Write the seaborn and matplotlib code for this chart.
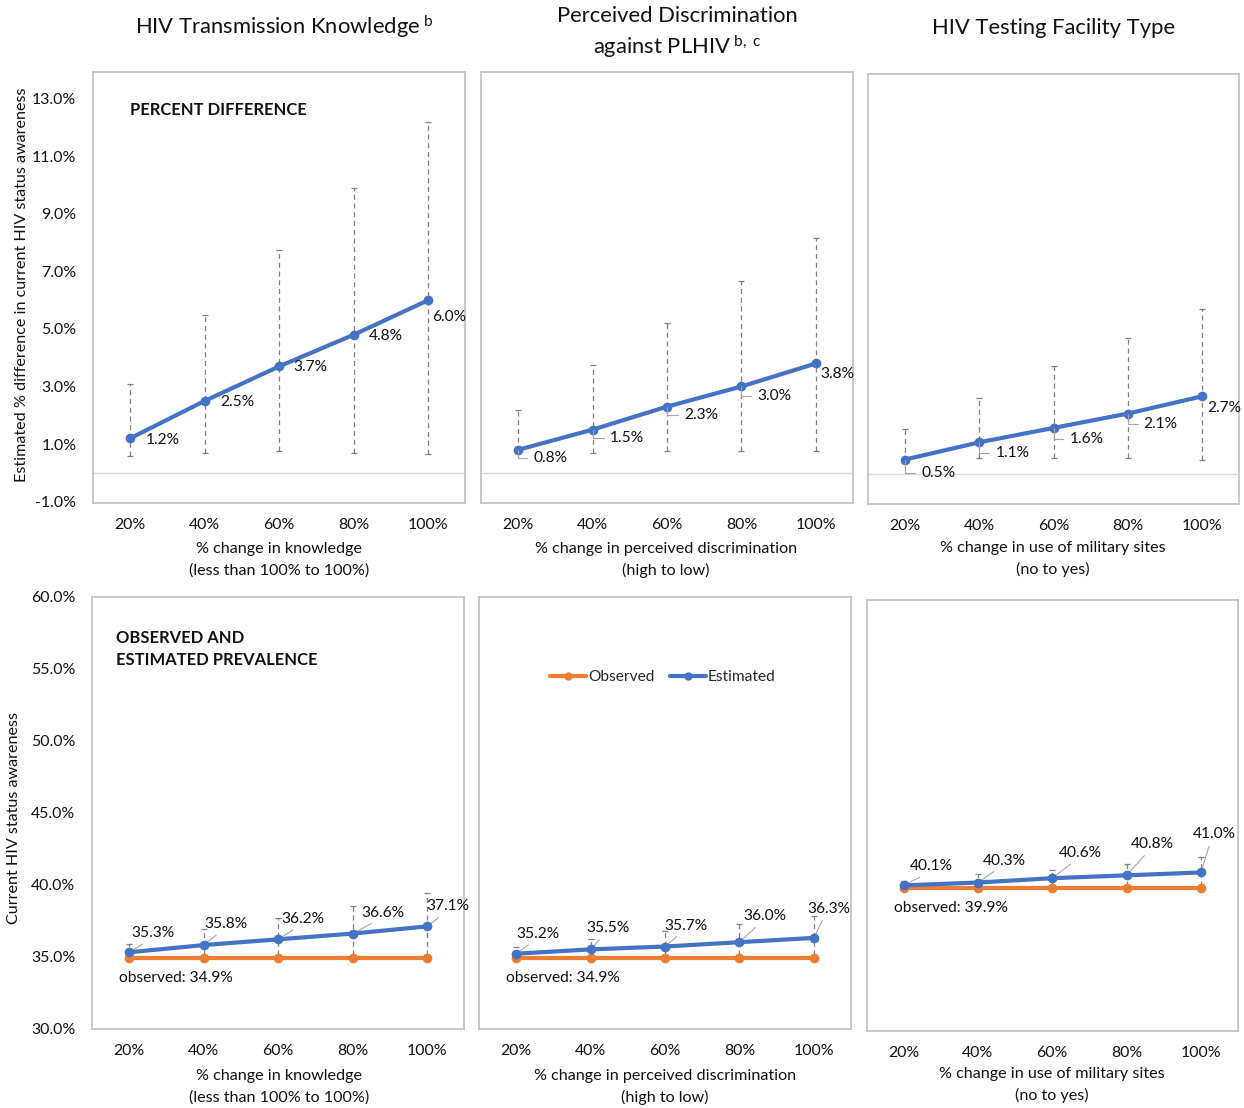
import numpy as np
import pandas as pd
import matplotlib
matplotlib.use("Agg")
import matplotlib.pyplot as plt
from matplotlib.lines import Line2D
import seaborn as sns

# ---------------------------------------------------------------- data
change_labels = ["20%", "40%", "60%", "80%", "100%"]

# percent difference in current HIV status awareness (top row)
knowledge_diff = [1.2, 2.5, 3.7, 4.8, 6.0]
knowledge_diff_lo = [0.6, 0.7, 0.75, 0.7, 0.65]
knowledge_diff_hi = [3.1, 5.5, 7.75, 9.9, 12.2]

discrim_diff = [0.8, 1.5, 2.3, 3.0, 3.8]
discrim_diff_lo = [0.75, 0.7, 0.75, 0.75, 0.75]
discrim_diff_hi = [2.2, 3.75, 5.2, 6.65, 8.15]

military_diff = [0.5, 1.1, 1.6, 2.1, 2.7]
military_diff_lo = [0.45, 0.55, 0.55, 0.55, 0.5]
military_diff_hi = [1.55, 2.65, 3.75, 4.75, 5.75]

# observed and estimated prevalence (bottom row)
knowledge_obs = 34.9
knowledge_est = [35.3, 35.8, 36.2, 36.6, 37.1]
knowledge_est_lo = [35.1, 35.1, 35.1, 35.1, 35.1]
knowledge_est_hi = [35.9, 36.9, 37.7, 38.5, 39.4]

discrim_obs = 34.9
discrim_est = [35.2, 35.5, 35.7, 36.0, 36.3]
discrim_est_lo = [35.1, 35.1, 35.1, 35.1, 35.1]
discrim_est_hi = [35.65, 36.2, 36.75, 37.25, 37.8]

military_obs = 39.9
military_est = [40.1, 40.3, 40.6, 40.8, 41.0]
military_est_lo = [40.05, 40.05, 40.05, 40.05, 40.05]
military_est_hi = [40.4, 40.9, 41.2, 41.6, 42.1]

titles = ["HIV Transmission Knowledge$^{\\mathrm{\\ b}}$",
          "Perceived Discrimination\nagainst PLHIV$^{\\mathrm{\\ b,\\ c}}$",
          "HIV Testing Facility Type"]
xlabels = ["% change in knowledge\n(less than 100% to 100%)",
           "% change in perceived discrimination\n(high to low)",
           "% change in use of military sites\n(no to yes)"]

# ---------------------------------------------------------------- style
sns.set_theme(style="white")
FONT = ["Lato", "DejaVu Sans"]
plt.rcParams["font.family"] = FONT
plt.rcParams["mathtext.fontset"] = "custom"
plt.rcParams["mathtext.rm"] = "Lato"
plt.rcParams["mathtext.it"] = "Lato:italic"
plt.rcParams["mathtext.bf"] = "Lato:bold"

BLUE = "#4472C4"
ORANGE = "#ED7D31"
ERR = "#7F7F7F"
FRAME = "#BFBFBF"
TXT = "#111111"

FS_TICK = 11.4
FS_LAB = 11.2
FS_AX = 11.6
FS_TITLE = 15.8
FS_BOLD = 11.9

W, H = 1244, 1108
fig = plt.figure(figsize=(W / 100, H / 100), dpi=100)
fig.patch.set_facecolor("white")


def box(l, t, r, b):
    return [l / W, 1 - b / H, (r - l) / W, (b - t) / H]


def ftext(x, y, s, **kw):
    kw.setdefault("color", TXT)
    fig.text(x / W, 1 - y / H, s, **kw)


PX = 72 / 100  # pixels -> points

top_boxes = [(93, 71.5, 465.5, 503), (481, 71.5, 853, 503), (868, 73.5, 1239, 504)]
bot_boxes = [(92, 597, 464.5, 1028.5), (479, 597, 851, 1028.5), (866.5, 599.5, 1238, 1030.5)]

top_series = [
    (knowledge_diff, knowledge_diff_lo, knowledge_diff_hi,
     [(16, 2), (16, 1), (14, 1), (15, 1), (4, 17)], [False] * 5),
    (discrim_diff, discrim_diff_lo, discrim_diff_hi,
     [(15, 8), (17, 8), (17, 8), (16, 10), (5, 11)], [True, True, True, True, False]),
    (military_diff, military_diff_lo, military_diff_hi,
     [(16, 13), (16, 11), (16, 11), (16, 10), (5, 12)], [True, True, True, True, False]),
]

bot_series = [
    (knowledge_obs, knowledge_est, knowledge_est_lo, knowledge_est_hi,
     [(24, -19), (22, -21), (25, -20), (30, -21), (21, -20)]),
    (discrim_obs, discrim_est, discrim_est_lo, discrim_est_hi,
     [(22, -20), (17, -21), (21, -21), (25, -26), (15, -29)]),
    (military_obs, military_est, military_est_lo, military_est_hi,
     [(28, -19), (26, -22), (28, -25), (26, -31), (14, -38)]),
]

pos = np.arange(len(change_labels))


def style_axes(ax, ylim, yticks, show_y):
    ax.set_xlim(-0.5, len(change_labels) - 0.5)
    ax.set_ylim(*ylim)
    ax.set_xticks(pos)
    ax.set_xticklabels(change_labels, fontsize=FS_TICK, color=TXT)
    ax.set_yticks(yticks)
    if show_y:
        ax.set_yticklabels([f"{v:.1f}%" for v in yticks], fontsize=FS_TICK, color=TXT)
    else:
        ax.set_yticklabels([])
    ax.tick_params(axis="x", length=0, pad=11)
    ax.tick_params(axis="y", length=0, pad=12)
    ax.set_xlabel("")
    ax.set_ylabel("")
    for sp in ax.spines.values():
        sp.set_color(FRAME)
        sp.set_linewidth(1.2)
        sp.set_visible(True)
    ax.grid(False)


def draw_errors(ax, y, lo, hi):
    y = np.asarray(y)
    yerr = np.vstack([y - np.asarray(lo), np.asarray(hi) - y])
    eb = ax.errorbar(pos, y, yerr=yerr, fmt="none", ecolor=ERR, elinewidth=0.9,
                     capsize=2.2, capthick=0.9, zorder=2)
    for lc in eb[2]:
        lc.set_linestyle((0, (4, 3)))


# ---------------------------------------------------------------- top row
for i, (vals, lo, hi, offs, leader) in enumerate(top_series):
    ax = fig.add_axes(box(*top_boxes[i]))
    ax.axhline(0, color="#D9D9D9", lw=1, zorder=1)
    draw_errors(ax, vals, lo, hi)
    df = pd.DataFrame({"pos": pos, "value": vals})
    sns.lineplot(data=df, x="pos", y="value", ax=ax, color=BLUE, lw=3,
                 marker="o", markersize=7, markeredgewidth=0, zorder=3)
    style_axes(ax, (-1.05, 13.95), [-1, 1, 3, 5, 7, 9, 11, 13], i == 0)
    for j, v in enumerate(vals):
        dx, dy = offs[j]
        kw = dict(xy=(pos[j], v), xytext=(dx * PX, -dy * PX),
                  textcoords="offset points", ha="left", va="center",
                  fontsize=FS_LAB, color=TXT)
        if leader[j]:
            kw["arrowprops"] = dict(arrowstyle="-", color="#A6A6A6", lw=0.8,
                                    connectionstyle="angle,angleA=0,angleB=90,rad=0",
                                    relpos=(0, 0.5), shrinkA=2, shrinkB=0)
        ax.annotate(f"{v:.1f}%", **kw)
    if i == 0:
        ax.text(0.1, 0.91, "PERCENT DIFFERENCE", transform=ax.transAxes,
                fontsize=FS_BOLD, fontweight="bold", color=TXT, ha="left", va="center")

# ---------------------------------------------------------------- bottom row
for i, (obs, est, lo, hi, offs) in enumerate(bot_series):
    ax = fig.add_axes(box(*bot_boxes[i]))
    draw_errors(ax, est, lo, hi)
    df_obs = pd.DataFrame({"pos": pos, "value": [obs] * len(pos)})
    df_est = pd.DataFrame({"pos": pos, "value": est})
    sns.lineplot(data=df_obs, x="pos", y="value", ax=ax, color=ORANGE, lw=3,
                 marker="o", markersize=7, markeredgewidth=0, zorder=3)
    sns.lineplot(data=df_est, x="pos", y="value", ax=ax, color=BLUE, lw=3,
                 marker="o", markersize=7, markeredgewidth=0, zorder=4)
    style_axes(ax, (30, 60), [30, 35, 40, 45, 50, 55, 60], i == 0)
    for j, v in enumerate(est):
        dx, dy = offs[j]
        ax.annotate(f"{v:.1f}%", xy=(pos[j], v), xytext=(dx * PX, -dy * PX),
                    textcoords="offset points", ha="center", va="center",
                    fontsize=FS_LAB, color=TXT,
                    arrowprops=dict(arrowstyle="-", color="#A6A6A6", lw=0.8,
                                    relpos=(0.4, 0.0), shrinkA=1, shrinkB=0))
    ax.annotate(f"observed: {obs:.1f}%", xy=(pos[0], obs), xytext=(-10 * PX, -20 * PX),
                textcoords="offset points", ha="left", va="center",
                fontsize=FS_LAB, color=TXT)
    if i == 0:
        ax.text(0.065, 0.879, "OBSERVED AND\nESTIMATED PREVALENCE",
                transform=ax.transAxes, fontsize=FS_BOLD, fontweight="bold",
                color=TXT, ha="left", va="center", linespacing=1.45)
    if i == 1:
        handles = [Line2D([], [], color=ORANGE, lw=3, marker="o", markersize=6,
                          markeredgewidth=0),
                   Line2D([], [], color=BLUE, lw=3, marker="o", markersize=6,
                          markeredgewidth=0)]
        ax.legend(handles, ["Observed", "Estimated"], loc="center",
                  bbox_to_anchor=(0.494, 0.814), ncol=2, frameon=False,
                  fontsize=FS_LAB, handlelength=2.3, handletextpad=0.12,
                  columnspacing=1.0)

# ---------------------------------------------------------------- text
ftext(284, 27, titles[0], fontsize=FS_TITLE, ha="center", va="center")
ftext(677, 33, titles[1], fontsize=FS_TITLE, ha="center", va="center", linespacing=1.3)
ftext(1054, 28, titles[2], fontsize=FS_TITLE, ha="center", va="center")

centers_top = [279, 666, 1053]
ys_top = [560, 560, 559]
centers_bot = [279, 665, 1052]
ys_bot = [1087, 1087, 1085]
for c, y, s in zip(centers_top, ys_top, xlabels):
    ftext(c, y, s, fontsize=FS_AX, ha="center", va="center", linespacing=1.6)
for c, y, s in zip(centers_bot, ys_bot, xlabels):
    ftext(c, y, s, fontsize=FS_AX, ha="center", va="center", linespacing=1.6)

ftext(22, 285, "Estimated % difference in current HIV status awareness",
      fontsize=FS_AX, rotation=90, ha="center", va="center")
ftext(14, 818, "Current HIV status awareness",
      fontsize=FS_AX, rotation=90, ha="center", va="center")

fig.savefig("out.png", dpi=100, facecolor="white")
